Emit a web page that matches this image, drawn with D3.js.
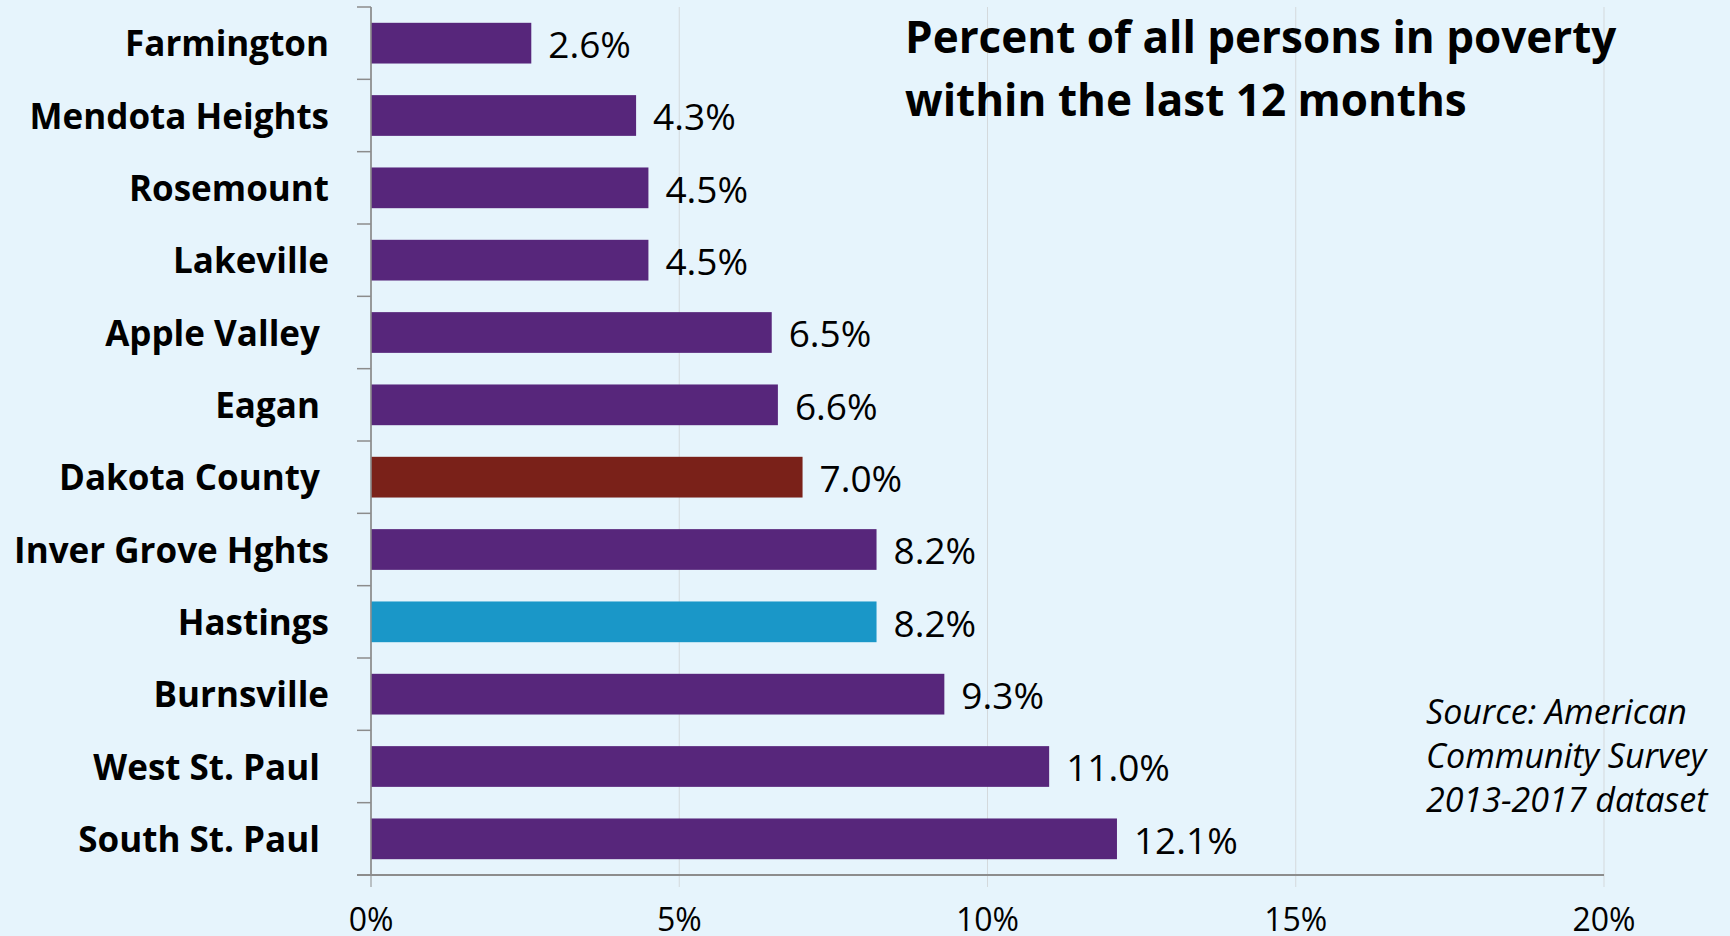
<!DOCTYPE html>
<html>
<head>
<meta charset="utf-8">
<script src="https://cdn.jsdelivr.net/npm/d3@7/dist/d3.min.js"></script>
<style>
  html, body { margin: 0; padding: 0; background: #E6F4FC; }
  svg { display: block; }
  text { font-family: "Open Sans", Lato, sans-serif; fill: #000; }
</style>
</head>
<body>
<svg id="chart" width="1730" height="936"></svg>
<script>
const categories = ["Farmington", "Mendota Heights", "Rosemount", "Lakeville", "Apple Valley ", "Eagan ", "Dakota County ", "Inver Grove Hghts", "Hastings", "Burnsville", "West St. Paul ", "South St. Paul "];
const values = [2.6, 4.3, 4.5, 4.5, 6.5, 6.6, 7.0, 8.2, 8.2, 9.3, 11.0, 12.1];
const barColors = ["#57267B", "#57267B", "#57267B", "#57267B", "#57267B", "#57267B", "#7A2119", "#57267B", "#1A97C8", "#57267B", "#57267B", "#57267B"];
const xTicks = [0, 5, 10, 15, 20];
const titleLines = ["Percent of all persons in poverty", "within the last 12 months"];
const sourceLines = ["Source: American", "Community Survey", "2013-2017 dataset"];

const svg = d3.select("#chart");
const pLeft = 371, pRight = 1604, pTop = 7, pBottom = 875;

const x = d3.scaleLinear().domain([0, 20]).range([pLeft, pRight]);
const y = d3.scaleBand().domain(categories).range([pTop, pBottom])
  .paddingInner(0.437).paddingOuter(0.2185);

// gridlines (extend below axis as ticks)
svg.append("g").selectAll("line").data(xTicks).join("line")
  .attr("x1", d => x(d)).attr("x2", d => x(d))
  .attr("y1", pTop).attr("y2", pBottom + 12)
  .attr("stroke", d => d === 0 ? "#8c8c8c" : "#d4d9dc")
  .attr("stroke-width", 1);

// bars
svg.append("g").selectAll("rect").data(values).join("rect")
  .attr("x", x(0))
  .attr("y", (d, i) => y(categories[i]))
  .attr("width", d => x(d) - x(0))
  .attr("height", y.bandwidth())
  .attr("fill", (d, i) => barColors[i]);

// y axis
const yAxisG = svg.append("g").attr("transform", `translate(${pLeft},0)`);
yAxisG.append("line").attr("x1", 0).attr("x2", 0).attr("y1", pTop).attr("y2", pBottom)
  .attr("stroke", "#8c8c8c").attr("stroke-width", 1.5);
const step = y.step();
const boundaries = d3.range(categories.length + 1).map(i => pTop + i * step);
yAxisG.selectAll("line.tick").data(boundaries).join("line").attr("class", "tick")
  .attr("x1", -14).attr("x2", 0).attr("y1", d => d).attr("y2", d => d)
  .attr("stroke", "#8c8c8c").attr("stroke-width", 1.5);

// x axis line
svg.append("line").attr("x1", pLeft - 14).attr("x2", pRight).attr("y1", pBottom).attr("y2", pBottom)
  .attr("stroke", "#8c8c8c").attr("stroke-width", 2);

// x tick labels
svg.append("g").selectAll("text").data(xTicks).join("text")
  .attr("x", d => x(d)).attr("y", 931)
  .attr("text-anchor", "middle")
  .style("font-size", "32px")
  .text(d => d + "%");

// category labels
svg.append("g").selectAll("text").data(categories).join("text")
  .attr("x", 329)
  .attr("y", d => y(d) + y.bandwidth() / 2)
  .attr("dy", "0.38em")
  .attr("text-anchor", "end")
  .style("white-space", "pre")
  .style("font-size", "35px").style("font-weight", "bold")
  .text(d => d);

// value labels
svg.append("g").selectAll("text").data(values).join("text")
  .attr("x", d => x(d) + 17)
  .attr("y", (d, i) => y(categories[i]) + y.bandwidth() / 2)
  .attr("dy", "0.4em")
  .style("font-size", "37px")
  .text(d => d.toFixed(1) + "%");

// title
svg.append("g").selectAll("text").data(titleLines).join("text")
  .attr("x", 905).attr("y", (d, i) => 53 + i * 63)
  .style("font-size", "44px").style("font-weight", "bold")
  .text(d => d);

// source
svg.append("g").selectAll("text").data(sourceLines).join("text")
  .attr("x", 1426).attr("y", (d, i) => 724 + i * 44)
  .style("font-size", "34px").style("font-style", "italic")
  .text(d => d);
</script>
</body>
</html>
